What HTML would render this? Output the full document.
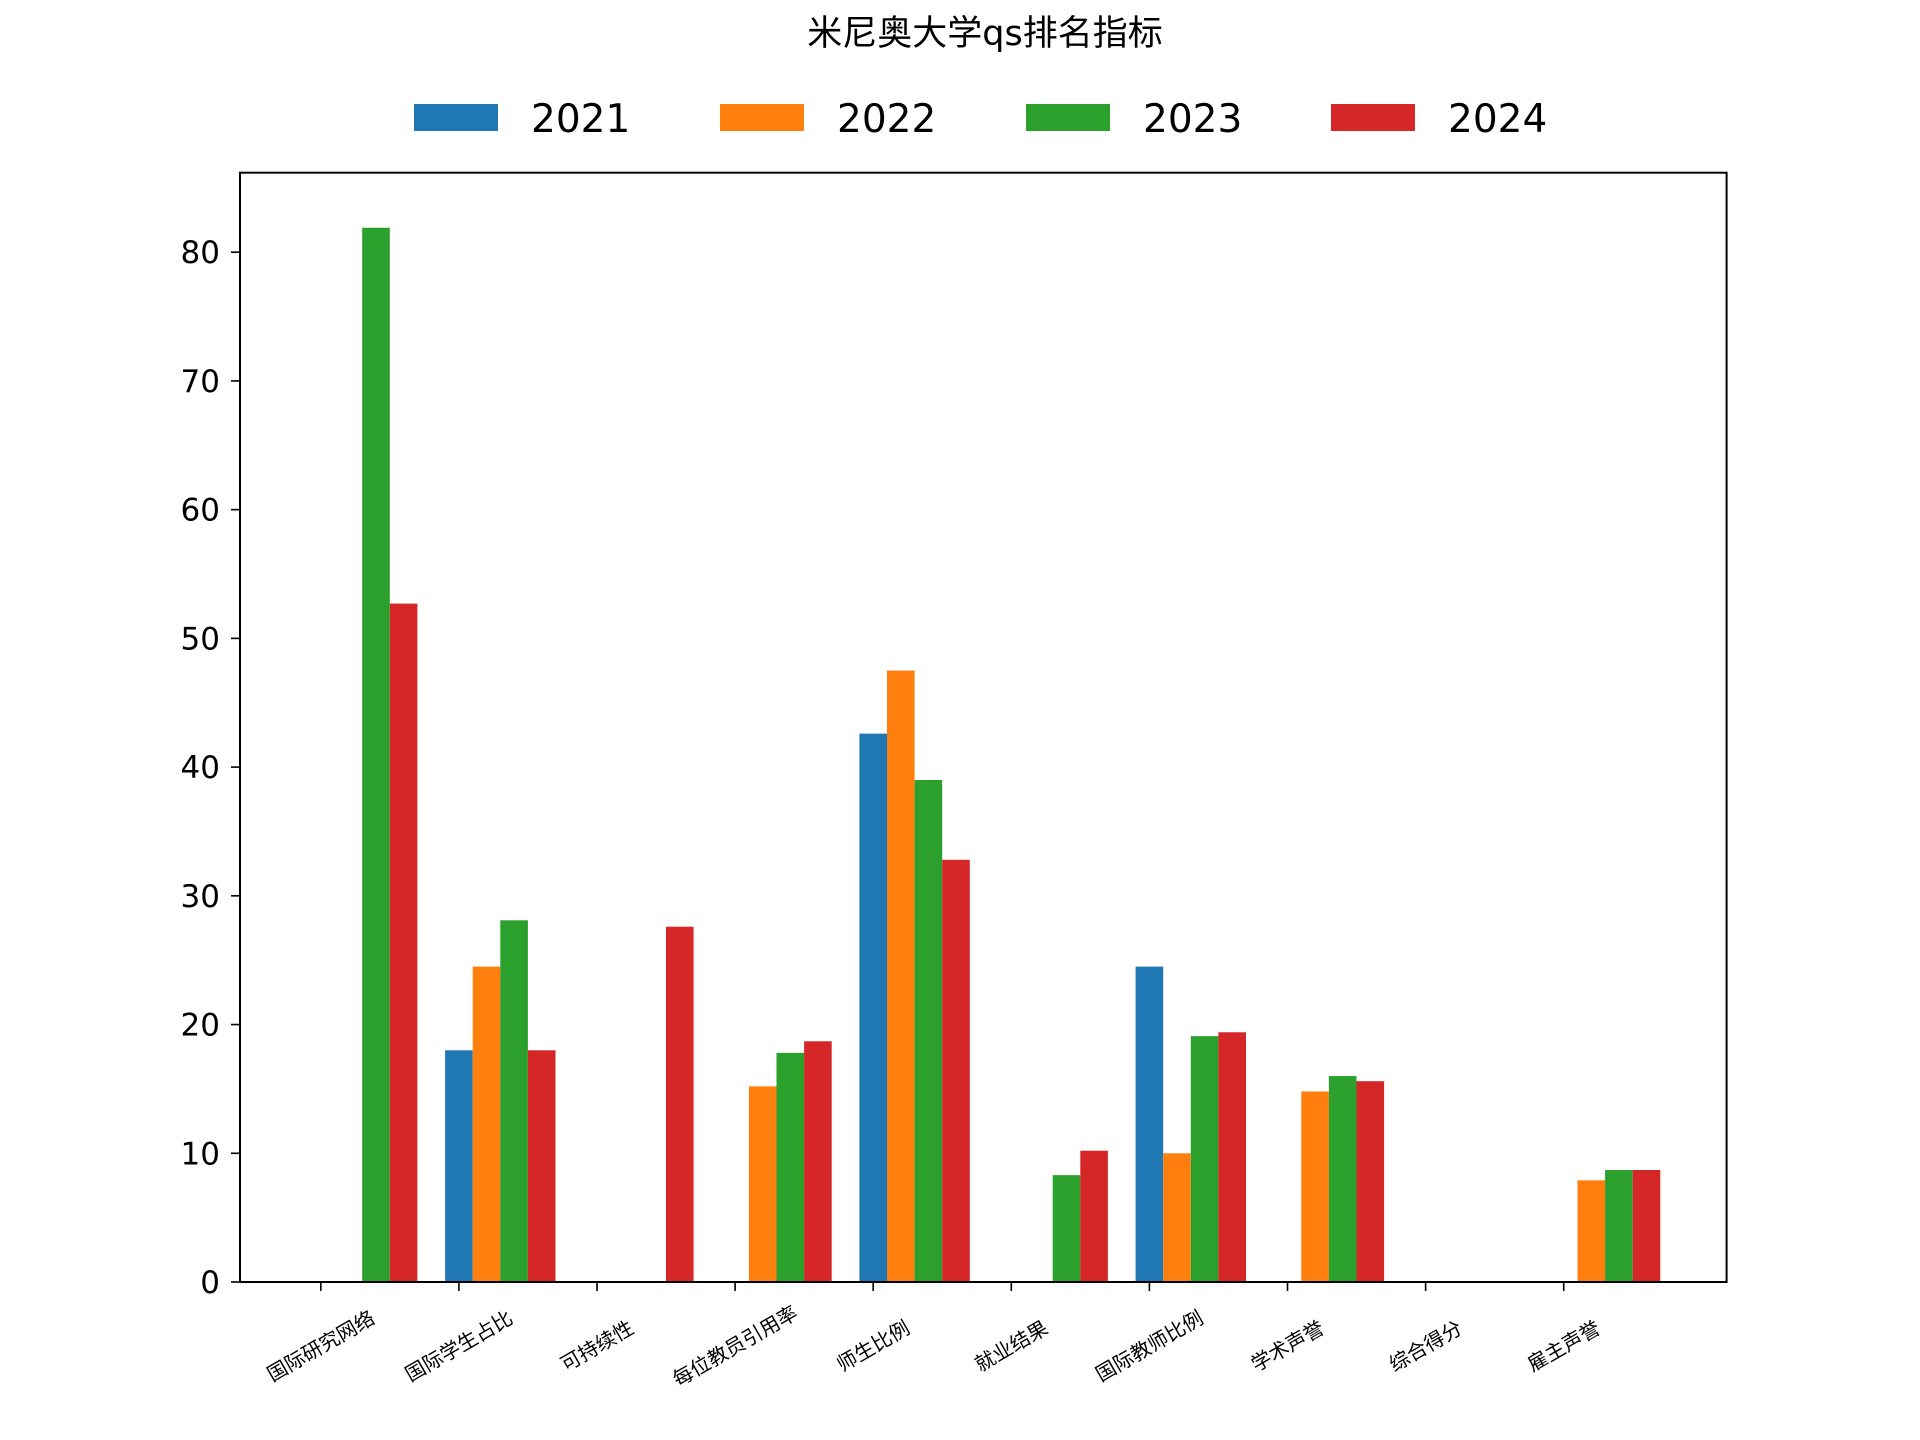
<!DOCTYPE html>
<html><head><meta charset="utf-8"><style>
body{margin:0;background:#fff}
svg{display:block;font-family:"DejaVu Sans","Liberation Sans","Noto Sans CJK SC",sans-serif}
</style></head><body>
<svg id="chart" width="1920" height="1440" viewBox="0 0 1920 1440" xmlns="http://www.w3.org/2000/svg">
<rect width="1920" height="1440" fill="#fff"/>
<text x="985" y="45" font-size="35" text-anchor="middle" font-family="'DejaVu Sans','Noto Sans CJK SC',sans-serif">米尼奥大学qs排名指标</text>
<g id="legend"></g>
<g id="bars"></g>
<g id="axes"></g>
</svg>
<script>
const categories=["国际研究网络","国际学生占比","可持续性","每位教员引用率","师生比例","就业结果","国际教师比例","学术声誉","综合得分","雇主声誉"];
const seriesNames=["2021","2022","2023","2024"];
const v2021=[0,18,0,0,42.6,0,24.5,0,0,0];
const v2022=[0,24.5,0,15.2,47.5,0,10,14.8,0,7.9];
const v2023=[81.9,28.1,0,17.8,39,8.3,19.1,16,0,8.7];
const v2024=[52.7,18,27.6,18.7,32.8,10.2,19.4,15.6,0,8.7];
const yTicks=[0,10,20,30,40,50,60,70,80];
const colors=["#1f77b4","#ff7f0e","#2ca02c","#d62728"];
const series=[v2021,v2022,v2023,v2024];
const NS="http://www.w3.org/2000/svg";
const L=240,R=1726.6,T=172.7,B=1282;
const x0=320.8,step=138.1,bw=27.6;
const xs=i=>x0+i*step;
const ys=v=>B-v*(1282-252.2)/80;
function mk(tag,attrs,parent){const e=document.createElementNS(NS,tag);for(const k in attrs)e.setAttribute(k,attrs[k]);parent.appendChild(e);return e;}
const bars=document.getElementById('bars'),axes=document.getElementById('axes'),leg=document.getElementById('legend');
series.forEach((s,si)=>{s.forEach((v,ci)=>{
 const cx=xs(ci)+si*bw;
 const r=mk('rect',{x:cx-bw/2,y:ys(v),width:bw,height:B-ys(v),fill:colors[si]},bars);
 
 
});});
const frame=mk('rect',{x:L,y:T,width:R-L,height:B-T,fill:'none',stroke:'#000','stroke-width':2},axes);


yTicks.forEach(t=>{
 const y=ys(t);
 mk('line',{x1:L-9,x2:L,y1:y,y2:y,stroke:'#000','stroke-width':1.6},axes);
 const tx=mk('text',{x:L-20,y:y+11,'font-size':31,'text-anchor':'end'},axes);
 tx.textContent=t;
 
 
});
categories.forEach((c,i)=>{
 const x=xs(i);
 mk('line',{x1:x,x2:x,y1:B,y2:B+9,stroke:'#000','stroke-width':1.6},axes);
 const cy=B+64;
 const tx=mk('text',{x:x,y:cy+7,'font-size':20,'text-anchor':'middle',transform:`rotate(-30 ${x} ${cy})`,'font-family':"'DejaVu Sans','Noto Sans CJK SC',sans-serif"},axes);
 tx.textContent=c;
 
 
});
const lx=[414,720,1026,1331];
seriesNames.forEach((n,i)=>{
 const p=mk('rect',{x:lx[i],y:104,width:84,height:27,fill:colors[i]},leg);
 
 
 const t=mk('text',{x:lx[i]+117,y:132,'font-size':39},leg);
 t.textContent=n;
 
 
});
</script>
</body></html>
